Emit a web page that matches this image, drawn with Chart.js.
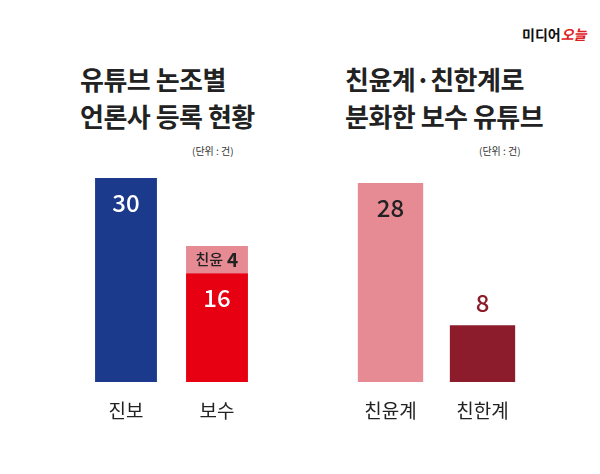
<!DOCTYPE html>
<html><head><meta charset="utf-8">
<script src="https://cdn.jsdelivr.net/npm/chart.js@4"></script>
<style>
body{margin:0;width:600px;height:474px;background:#fff;position:relative;overflow:hidden;font-family:"Noto Sans CJK KR",sans-serif}
canvas{position:absolute;top:0}
.t{position:absolute;font-weight:bold;font-size:26px;line-height:37px;color:#222;letter-spacing:-0.5px}
.u{position:absolute;font-size:10px;color:#333}
.logo{position:absolute;left:522px;top:24px;font-size:14px;font-weight:bold;color:#111}
.logo span{color:#e0201e;font-style:italic}
</style></head><body>
<div class="logo">미디어<span>오늘</span></div>
<div class="t" style="left:80px;top:60px">유튜브 논조별<br>언론사 등록 현황</div>
<div class="u" style="left:192px;top:143px">(단위 : 건)</div>
<div class="t" style="left:345px;top:60px">친윤계·친한계로<br>분화한 보수 유튜브</div>
<div class="u" style="left:479px;top:143px">(단위 : 건)</div>
<canvas id="c1" style="left:0"></canvas>
<canvas id="c2" style="left:300px"></canvas>
<script>
// 왼쪽: 논조별
const leftCats = ['진보', '보수'];
const leftMain = [30, 16];
const leftYoon = [0, 4];
// 오른쪽: 보수 유튜브
const rightCats = ['친윤계', '친한계'];
const rightVals = [28, 8];

const labelPlugin = {
  id: 'labels',
  afterDatasetsDraw(chart, args, opts) {
    const ctx = chart.ctx;
    ctx.save();
    ctx.textAlign = 'center';
    ctx.textBaseline = 'middle';
    chart.data.datasets.forEach((ds, di) => {
      chart.getDatasetMeta(di).data.forEach((bar, i) => {
        const v = ds.data[i];
        if (!v) return;
        const st = ds.labelStyle[i];
        ctx.fillStyle = st.color;
        ctx.font = '500 24px "Noto Sans CJK KR"';
        const y = st.above ? bar.y - 22 : (st.mid ? (bar.y + bar.base) / 2 : bar.y + 25);
        if (st.prefix) {
          ctx.font = '500 15px "Noto Sans CJK KR"';
          ctx.textAlign = 'right';
          ctx.fillText(st.prefix, bar.x + 6, y);
          ctx.font = 'bold 19px "Noto Sans CJK KR"';
          ctx.textAlign = 'left';
          ctx.fillText(v, bar.x + 10, y);
          ctx.textAlign = 'center';
        } else ctx.fillText(v, bar.x, y);
      });
    });
    ctx.fillStyle = '#222';
    ctx.font = '19px "Noto Sans CJK KR"';
    const meta = chart.getDatasetMeta(0);
    chart.data.labels.forEach((l, i) => ctx.fillText(l, meta.data[i].x, chart.chartArea.bottom + 29));
    ctx.restore();
  }
};

function opts(max, pad, pct) {
  return {
    responsive: false, animation: false, devicePixelRatio: 1,
    layout: { padding: pad },
    plugins: { legend: { display: false }, tooltip: { enabled: false } },
    scales: {
      x: { display: false, stacked: true },
      y: { display: false, stacked: true, min: 0, max: max }
    },
    datasets: { bar: { barPercentage: pct, categoryPercentage: 1 } }
  };
}

const c1 = document.getElementById('c1'); c1.width = 300; c1.height = 474;
new Chart(c1, {
  type: 'bar',
  data: {
    labels: leftCats,
    datasets: [
      { data: leftMain, backgroundColor: ['#1b3a8c', '#e60012'],
        labelStyle: [{ color: '#fff' }, { color: '#fff' }] },
      { data: leftYoon, backgroundColor: '#e68a93',
        labelStyle: [{}, { color: '#222', mid: true, prefix: '친윤' }] }
    ]
  },
  options: opts(30, { left: 80.5, right: 300 - 80.5 - 182, top: 178, bottom: 92 }, 0.68),
  plugins: [labelPlugin]
});

const c2 = document.getElementById('c2'); c2.width = 300; c2.height = 474;
new Chart(c2, {
  type: 'bar',
  data: {
    labels: rightCats,
    datasets: [
      { data: rightVals, backgroundColor: ['#e68a93', '#8c1c2b'],
        labelStyle: [{ color: '#222' }, { color: '#8c1c2b', above: true }] }
    ]
  },
  options: opts(28, { left: 44.5, right: 300 - 44.5 - 184, top: 183, bottom: 92 }, 0.71),
  plugins: [labelPlugin]
});
</script>
</body></html>
